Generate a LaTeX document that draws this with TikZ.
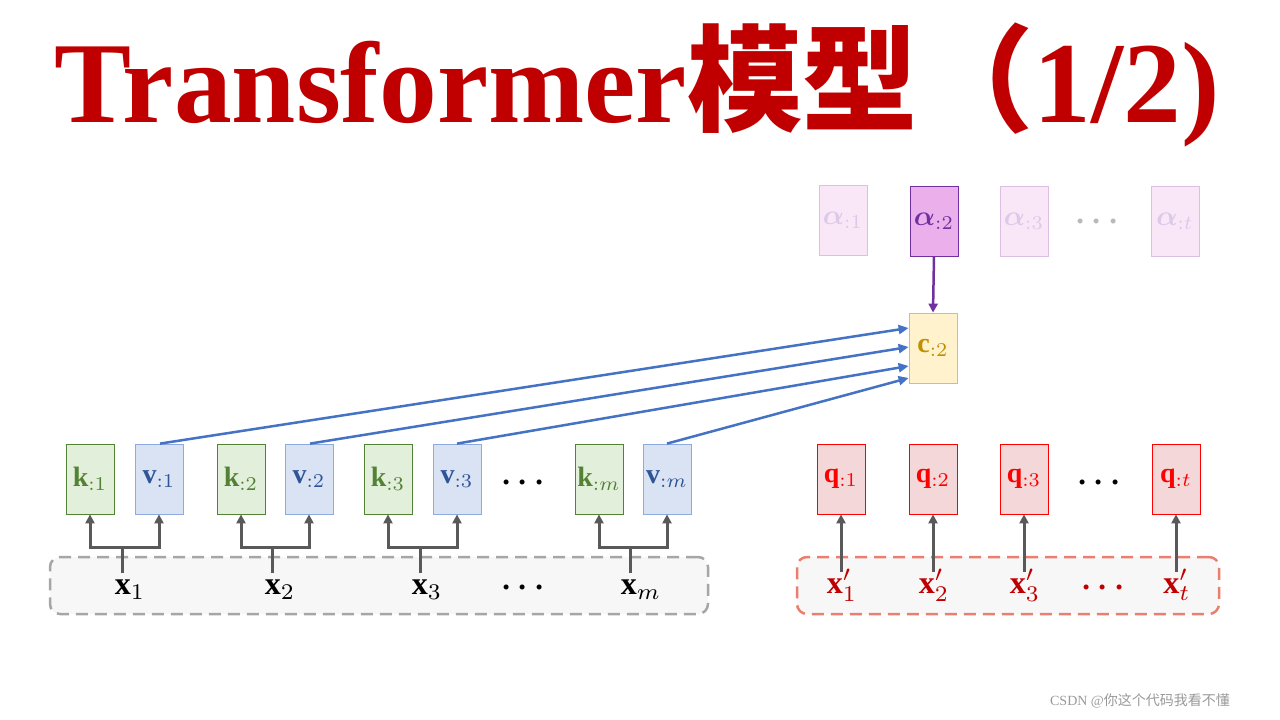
\documentclass[tikz,border=0pt]{standalone}
\usepackage{amsmath,bm}
\usepackage{fontspec}
\setmainfont{Liberation Serif}
\newfontfamily\cjk{Noto Sans CJK SC}
\usetikzlibrary{arrows.meta}
\newcommand\bx[1]{\raisebox{-5pt}{\scalebox{2.8}{$#1$}}}
\newcommand\lx[1]{\scalebox{3.2}{$#1$}}
\definecolor{tred}{HTML}{C00000}
\definecolor{kfill}{HTML}{E2EFDA}\definecolor{kdraw}{HTML}{548235}
\definecolor{vfill}{HTML}{DAE3F3}\definecolor{vdraw}{HTML}{8FAADC}\definecolor{vtext}{HTML}{2F5597}
\definecolor{qfill}{HTML}{F4D8D9}
\definecolor{afill}{HTML}{EBB0EB}\definecolor{adraw}{HTML}{7030A0}
\definecolor{ffill}{HTML}{F9E6F7}\definecolor{fdraw}{HTML}{DCC0E4}\definecolor{ftext}{HTML}{DACAE8}
\definecolor{cfill}{HTML}{FFF2CC}\definecolor{cdraw}{HTML}{FFC000}\definecolor{ctext}{HTML}{BF9000}
\definecolor{garr}{HTML}{595959}
\definecolor{blu}{HTML}{4472C4}
\begin{document}
\begin{tikzpicture}[x=1pt,y=-1pt,
 box/.style={draw,minimum width=48pt,minimum height=70pt,inner sep=0pt,line width=0.8pt},
 kb/.style={box,fill=kfill,draw=kdraw,text=kdraw},
 vb/.style={box,fill=vfill,draw=vdraw,text=vtext},
 qb/.style={box,fill=qfill,draw=red,text=red},
 ab/.style={box,fill=afill,draw=adraw,text=adraw},
 fb/.style={box,fill=ffill,draw=fdraw,text=ftext},
 cb/.style={box,fill=cfill,draw=cdraw,text=ctext},
 lab/.style={inner sep=0pt},
 garrow/.style={draw=garr,line width=3pt,-{Triangle[length=9pt,width=9pt]}},
 barrow/.style={draw=blu,line width=2.5pt,-{Triangle[length=10pt,width=9pt]}},
 dots/.style={inner sep=0pt}]
\useasboundingbox (0,0) rectangle (1280,720);
\node[text=tred,anchor=center] (title) at (637,85) {\resizebox{1165pt}{!}{\bfseries Transformer{\cjk 模型（}1/2)}};
% input boxes
\node[draw=gray!70,fill=gray!6,dash pattern=on 12pt off 7pt,line width=2.5pt,rounded corners=10pt,minimum width=658pt,minimum height=57pt] (xin) at (379,585.5) {};
\node[draw={rgb,255:red,233;green,127;blue,111},fill=gray!6,dash pattern=on 12pt off 7pt,line width=2.5pt,rounded corners=10pt,minimum width=422pt,minimum height=57pt] (xq) at (1008,585.5) {};
% k v
\node[kb] (k1) at (90,479) {\bx{\mathbf{k}_{:1}}};
\node[vb] (v1) at (159,479) {\bx{\mathbf{v}_{:1}}};
\node[kb] (k2) at (241,479) {\bx{\mathbf{k}_{:2}}};
\node[vb] (v2) at (309,479) {\bx{\mathbf{v}_{:2}}};
\node[kb] (k3) at (388,479) {\bx{\mathbf{k}_{:3}}};
\node[vb] (v3) at (457,479) {\bx{\mathbf{v}_{:3}}};
\node[dots] (kd) at (526,483) {\lx{\bm\cdots}};
\node[kb] (km) at (599,479) {\bx{\mathbf{k}_{:m}}};
\node[vb] (vm) at (667,479) {\bx{\mathbf{v}_{:m}}};
% x
\node[lab] (x1) at (130,590) {\lx{\mathbf{x}_1}};
\node[lab] (x2) at (280,590) {\lx{\mathbf{x}_2}};
\node[lab] (x3) at (427,590) {\lx{\mathbf{x}_3}};
\node[lab] (xd) at (526,588) {\lx{\bm\cdots}};
\node[lab] (xm) at (641,590) {\lx{\mathbf{x}_m}};
\foreach \s/\k/\v/\x in {122/k1/v1/x1,272/k2/v2/x2,420/k3/v3/x3,630/km/vm/xm}{
 \coordinate (b\x) at (\s,547);
 \draw[draw=garr,line width=3pt] (\s,573) -- (b\x);
 \draw[garrow] (b\x) -| (\k.south);
 \draw[garrow] (b\x) -| (\v.south);
}
% q
\node[qb] (q1) at (841,479) {\bx{\mathbf{q}_{:1}}};
\node[qb] (q2) at (933,479) {\bx{\mathbf{q}_{:2}}};
\node[qb] (q3) at (1024,479) {\bx{\mathbf{q}_{:3}}};
\node[dots] (qd) at (1102,483) {\lx{\bm\cdots}};
\node[qb] (qt) at (1176,479) {\bx{\mathbf{q}_{:t}}};
\node[lab,text=tred] (xp1) at (842,585) {\lx{\mathbf{x}'_1}};
\node[lab,text=tred] (xp2) at (934,585) {\lx{\mathbf{x}'_2}};
\node[lab,text=tred] (xp3) at (1025,585) {\lx{\mathbf{x}'_3}};
\node[lab,text=tred] (xpd) at (1106,588) {\lx{\bm\cdots}};
\node[lab,text=tred] (xpt) at (1177,585) {\lx{\mathbf{x}'_t}};
\foreach \a/\b/\xx in {xp1/q1/841,xp2/q2/933,xp3/q3/1024,xpt/qt/1176}{
 \coordinate (s\a) at (\xx,572);
 \draw[garrow] (s\a) -- (\b.south);
}
% alpha
\node[fb] (a1) at (843,220) {\bx{\bm{\alpha}_{:1}}};
\node[ab] (a2) at (934,221) {\bx{\bm{\alpha}_{:2}}};
\node[fb] (a3) at (1024,221) {\bx{\bm{\alpha}_{:3}}};
\node[dots,text=gray!55] (ad) at (1100,222) {\lx{\bm\cdots}};
\node[fb] (at) at (1175,221) {\bx{\bm{\alpha}_{:t}}};
\node[cb] (c2) at (933,348) {\bx{\mathbf{c}_{:2}}};
\draw[draw=adraw,line width=2.5pt,-{Triangle[length=9pt,width=9pt]}] (a2.south) -- (c2.north);
% blue
\draw[barrow] ([xshift=1pt]v1.north) -- ([yshift=20pt]c2.west);
\draw[barrow] ([xshift=1pt]v2.north) -- ([yshift=1pt]c2.west);
\draw[barrow] (v3.north) -- ([yshift=-18pt]c2.west);
\draw[barrow] (vm.north) -- ([yshift=-30pt]c2.west);
\node[text=gray!80,font=\fontsize{14}{16}\selectfont] (wm) at (1140,701) {CSDN @{\cjk 你这个代码我看不懂}};
\end{tikzpicture}
\end{document}
